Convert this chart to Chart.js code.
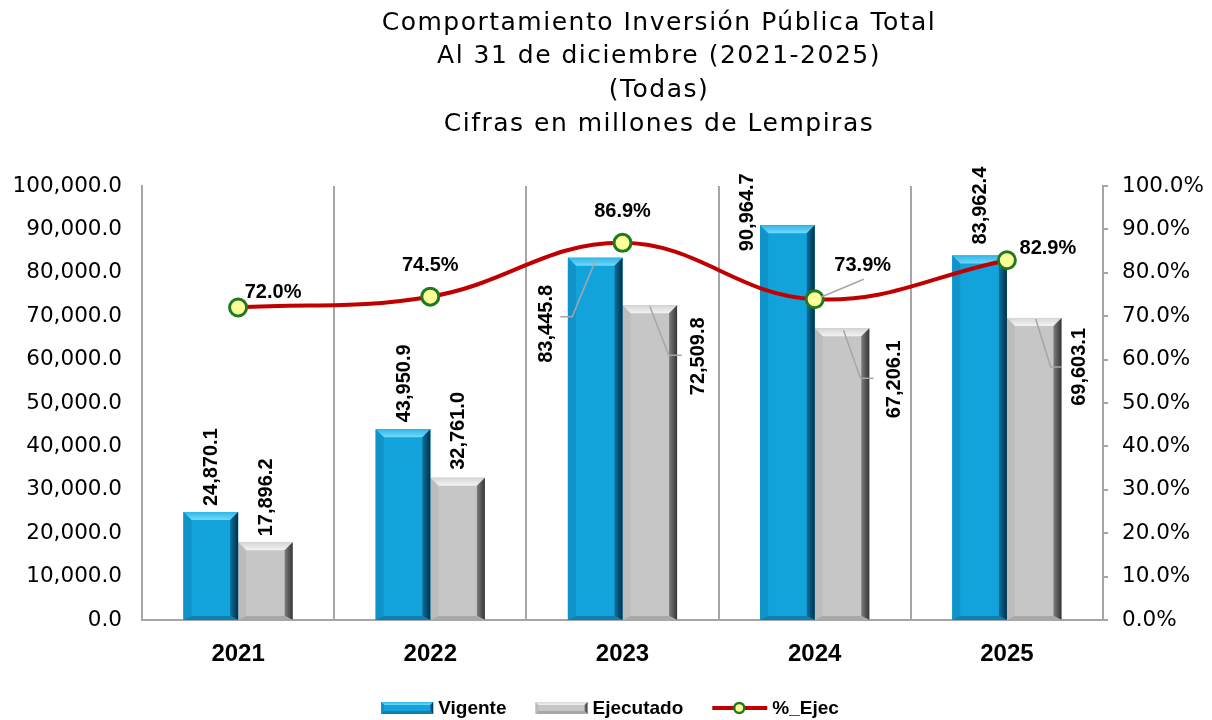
<!DOCTYPE html>
<html>
<head>
<meta charset="utf-8">
<script src="https://cdn.jsdelivr.net/npm/chart.js@4.4.1/dist/chart.umd.min.js"></script>
<style>
html,body{margin:0;padding:0;background:#ffffff;}
#wrap{width:1212px;height:720px;position:relative;}
</style>
</head>
<body>
<div id="wrap"><canvas id="c" width="1212" height="720"></canvas></div>
<script>
// ---------- DATA ----------
const titleLines = [
  'Comportamiento Inversión Pública Total',
  'Al 31 de diciembre (2021-2025)',
  '(Todas)',
  'Cifras en millones de Lempiras'
];
const categories = ['2021', '2022', '2023', '2024', '2025'];
const vigente   = [24870.1, 43950.9, 83445.8, 90964.7, 83962.4];
const ejecutado = [17896.2, 32761.0, 72509.8, 67206.1, 69603.1];
const pctEjec   = [72.0, 74.5, 86.9, 73.9, 82.9];
const leftTickLabels  = ['0.0','10,000.0','20,000.0','30,000.0','40,000.0','50,000.0','60,000.0','70,000.0','80,000.0','90,000.0','100,000.0'];
const rightTickLabels = ['0.0%','10.0%','20.0%','30.0%','40.0%','50.0%','60.0%','70.0%','80.0%','90.0%','100.0%'];
const seriesNames = ['Vigente', 'Ejecutado', '%_Ejec'];

// ---------- STYLE ----------
const PAL = {
  blue: {face:'#13A3DB', top1:'#2fb8e8', top2:'#74d8f8', left:'#0f93c9', right1:'#0b719f', right2:'#052f46', bottom:'#0d7fb0'},
  gray: {face:'#C6C6C6', top1:'#d6d6d6', top2:'#f3f3f3', left:'#bcbcbc', right1:'#7d7d7d', right2:'#353535', bottom:'#a8a8a8'}
};
const AXIS_GRAY = '#a6a6a6';
const LABEL_FONT = 'bold 20px "Liberation Sans", Arial, sans-serif';

function poly(ctx, pts, fill) {
  ctx.beginPath();
  ctx.moveTo(pts[0][0], pts[0][1]);
  for (let i = 1; i < pts.length; i++) ctx.lineTo(pts[i][0], pts[i][1]);
  ctx.closePath();
  ctx.fillStyle = fill;
  ctx.fill();
}
function bevelBar(ctx, x0, x1, yTop, yBot, pal, bev, bottomBev) {
  const h = yBot - yTop;
  if (h <= 0) return;
  const b = Math.min(bev, (x1 - x0) / 3, h / 2);
  const bb = Math.min(bottomBev, h / 2);
  ctx.save();
  ctx.fillStyle = pal.face;
  ctx.fillRect(x0, yTop, x1 - x0, h);
  let g = ctx.createLinearGradient(0, yTop, 0, yTop + b);
  g.addColorStop(0, pal.top1); g.addColorStop(1, pal.top2);
  poly(ctx, [[x0, yTop], [x1, yTop], [x1 - b, yTop + b], [x0 + b, yTop + b]], g);
  poly(ctx, [[x0, yTop], [x0 + b, yTop + b], [x0 + b, yBot - bb], [x0, yBot]], pal.left);
  g = ctx.createLinearGradient(x1 - b, 0, x1, 0);
  g.addColorStop(0, pal.right1); g.addColorStop(1, pal.right2);
  poly(ctx, [[x1, yTop], [x1, yBot], [x1 - b, yBot - bb], [x1 - b, yTop + b]], g);
  if (bb > 0) poly(ctx, [[x0, yBot], [x1, yBot], [x1 - b, yBot - bb], [x0 + b, yBot - bb]], pal.bottom);
  ctx.restore();
}

// label placement per series (styling, not data)
const barLabelPlacement = {
  0: [ {mode:'above', gap:6}, {mode:'above', gap:7}, {mode:'side', dx:-50, dy:66, leader:[[-35,59],[-23,59],[1,1]]},
       {mode:'side', dx:-41, dy:-13}, {mode:'above', gap:11} ],
  1: [ {mode:'above', gap:6}, {mode:'above', gap:8}, {mode:'side', dx:48, dy:51, leader:[[0,1],[19,50],[32,50]]},
       {mode:'side', dx:51, dy:51, leader:[[1.5,2],[18.5,50],[31.5,50]]},
       {mode:'side', dx:44, dy:49, leader:[[1.5,1],[16.5,49],[27.5,49]]} ]
};
const pctLabelPlacement = [
  {dx:35, dy:-16}, {dx:0, dy:-32}, {dx:0, dy:-32},
  {dx:48, dy:-35, leader:[[6,-2],[49,-20]]}, {dx:41, dy:-13}
];

function fmtNum(v) {
  return v.toLocaleString('en-US', {minimumFractionDigits:1, maximumFractionDigits:1});
}

function drawLeader(ctx, ox, oy, pts) {
  ctx.save();
  ctx.strokeStyle = AXIS_GRAY;
  ctx.lineWidth = 1.5;
  ctx.beginPath();
  ctx.moveTo(ox + pts[0][0], oy + pts[0][1]);
  for (let i = 1; i < pts.length; i++) ctx.lineTo(ox + pts[i][0], oy + pts[i][1]);
  ctx.stroke();
  ctx.restore();
}

const customPlugin = {
  id: 'custom',
  afterDatasetDraw(chart, args) {
    const meta = args.meta;
    if (meta.type !== 'bar') return;
    const ctx = chart.ctx;
    const pal = meta.index === 0 ? PAL.blue : PAL.gray;
    ctx.save();
    meta.data.forEach(el => {
      const x0 = el.x - el.width / 2, x1 = el.x + el.width / 2;
      bevelBar(ctx, x0, x1, el.y, el.base, pal, 8, 4);
    });
    ctx.restore();
  },
  afterDatasetsDraw(chart) {
    const ctx = chart.ctx;
    ctx.save();
    ctx.font = LABEL_FONT;
    ctx.fillStyle = '#000';
    // bar labels
    [0, 1].forEach(di => {
      const meta = chart.getDatasetMeta(di);
      const vals = chart.data.datasets[di].data;
      meta.data.forEach((el, i) => {
        const p = barLabelPlacement[di][i];
        const txt = fmtNum(vals[i]);
        const w = ctx.measureText(txt).width;
        let cx, cy;
        if (p.mode === 'above') { cx = el.x; cy = el.y - p.gap - w / 2; }
        else { cx = el.x + p.dx; cy = el.y + p.dy; }
        if (p.leader) drawLeader(ctx, el.x, el.y, p.leader);
        ctx.save();
        ctx.translate(cx, cy);
        ctx.rotate(-Math.PI / 2);
        ctx.textAlign = 'center';
        ctx.textBaseline = 'middle';
        ctx.fillStyle = '#000';
        ctx.fillText(txt, 0, 1);
        ctx.restore();
      });
    });
    // percentage label leaders
    const lm = chart.getDatasetMeta(2);
    lm.data.forEach((el, i) => {
      const p = pctLabelPlacement[i];
      if (p.leader) drawLeader(ctx, el.x, el.y, p.leader);
    });
    ctx.restore();
  },
  afterDraw(chart) {
    const ctx = chart.ctx;
    ctx.save();
    // percentage labels on top of everything
    ctx.font = LABEL_FONT;
    ctx.fillStyle = '#000';
    ctx.textAlign = 'center';
    ctx.textBaseline = 'middle';
    const lm = chart.getDatasetMeta(2);
    lm.data.forEach((el, i) => {
      const p = pctLabelPlacement[i];
      ctx.fillText(pctEjec[i].toFixed(1) + '%', el.x + p.dx, el.y + p.dy + 1);
    });
    // title
    ctx.font = '25px "DejaVu Sans", sans-serif';
    if ('letterSpacing' in ctx) ctx.letterSpacing = '1.5px';
    ctx.fillStyle = '#000';
    titleLines.forEach((t, i) => ctx.fillText(t, 659, 23 + i * 33.7));
    if ('letterSpacing' in ctx) ctx.letterSpacing = '0px';
    // legend
    ctx.font = 'bold 19px "Liberation Sans", Arial, sans-serif';
    ctx.textAlign = 'left';
    const sw = 52, gapT = 5, gapI = 29, ly = 708;
    const widths = seriesNames.map(n => ctx.measureText(n).width);
    const total = widths.reduce((a, b) => a + b, 0) + 3 * (sw + gapT) + 2 * gapI + 3;
    let x = 610 - total / 2;
    seriesNames.forEach((n, i) => {
      if (i === 0) bevelBar(ctx, x, x + sw, ly - 6, ly + 6, PAL.blue, 3, 3);
      else if (i === 1) bevelBar(ctx, x, x + sw, ly - 6, ly + 6, PAL.gray, 3, 3);
      else {
        ctx.save();
        ctx.strokeStyle = '#C00000';
        ctx.lineWidth = 4;
        ctx.beginPath(); ctx.moveTo(x, ly); ctx.lineTo(x + sw + 3, ly); ctx.stroke();
        ctx.beginPath(); ctx.arc(x + sw / 2 + 1, ly, 5, 0, Math.PI * 2);
        ctx.fillStyle = '#FFFF99'; ctx.fill();
        ctx.lineWidth = 2.5; ctx.strokeStyle = '#1F7A1F'; ctx.stroke();
        ctx.restore();
        x += 3;
      }
      x += sw + gapT;
      ctx.fillStyle = '#000';
      ctx.fillText(n, x, ly + 1);
      x += widths[i] + gapI;
    });
    ctx.restore();
  }
};

new Chart(document.getElementById('c'), {
  data: {
    labels: categories,
    datasets: [
      {type:'bar', label: seriesNames[0], data: vigente, backgroundColor: PAL.blue.face, borderWidth: 0,
       categoryPercentage: 0.568, barPercentage: 1.0, yAxisID: 'y', order: 1},
      {type:'bar', label: seriesNames[1], data: ejecutado, backgroundColor: PAL.gray.face, borderWidth: 0,
       categoryPercentage: 0.568, barPercentage: 1.0, yAxisID: 'y', order: 1},
      {type:'line', label: seriesNames[2], data: pctEjec, yAxisID: 'y1', order: 0,
       borderColor: '#C00000', borderWidth: 4, tension: 0.4, fill: false,
       pointRadius: 8.5, pointHoverRadius: 8.5, pointBackgroundColor: '#FFFF99',
       pointBorderColor: '#1F7A1F', pointBorderWidth: 3, clip: false}
    ]
  },
  options: {
    responsive: false,
    animation: false,
    devicePixelRatio: 1,
    layout: {padding: {top: 186, bottom: 0, left: 0, right: 0}},
    plugins: {legend: {display: false}, title: {display: false}, tooltip: {enabled: false}},
    scales: {
      x: {
        type: 'category',
        grid: {display: true, offset: true, color: AXIS_GRAY, lineWidth: 2, drawTicks: false},
        border: {display: true, color: AXIS_GRAY, width: 2},
        ticks: {color: '#000', font: {family: '"Liberation Sans", Arial, sans-serif', size: 24, weight: 'bold'}, padding: 20},
        afterFit: s => { s.height = 100; }
      },
      y: {
        position: 'left', min: 0, max: 100000,
        grid: {display: false, drawTicks: false},
        border: {display: true, color: AXIS_GRAY, width: 2},
        ticks: {stepSize: 10000, color: '#000', padding: 20,
                font: {family: '"DejaVu Sans", sans-serif', size: 21.5},
                callback: (v, i) => leftTickLabels[i]},
        afterFit: s => { s.width = 142; }
      },
      y1: {
        position: 'right', min: 0, max: 100,
        grid: {display: true, drawOnChartArea: false, drawTicks: true, tickLength: 5, color: AXIS_GRAY, lineWidth: 2},
        border: {display: true, color: AXIS_GRAY, width: 2},
        ticks: {stepSize: 10, color: '#000', padding: 14,
                font: {family: '"DejaVu Sans", sans-serif', size: 21.5},
                callback: (v, i) => rightTickLabels[i]},
        afterFit: s => { s.width = 109; }
      }
    }
  },
  plugins: [customPlugin]
});
</script>
</body>
</html>
